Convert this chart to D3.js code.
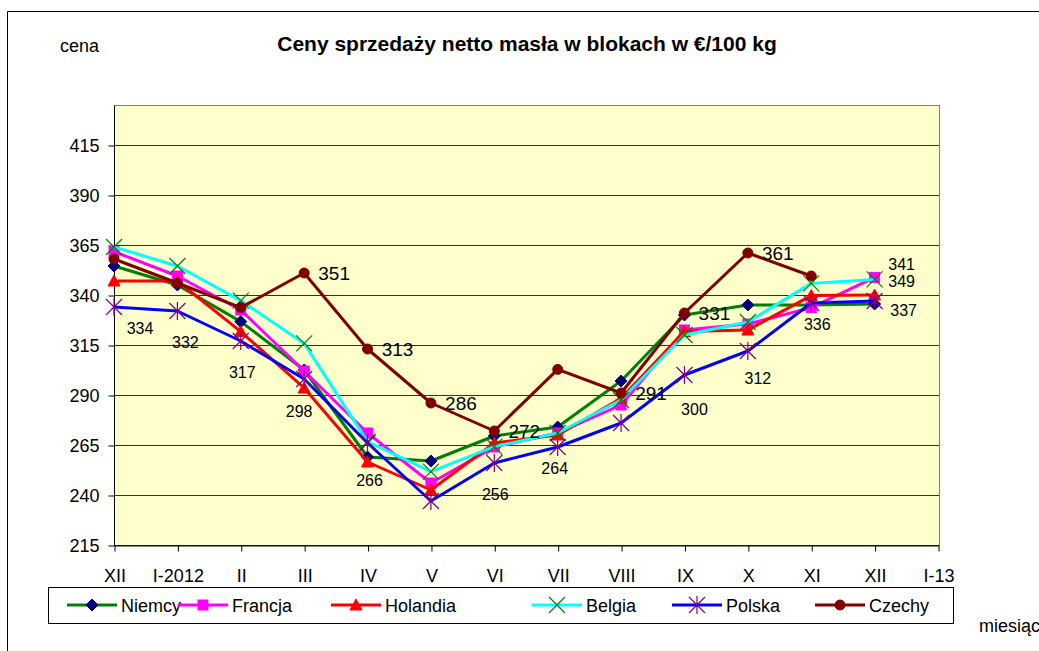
<!DOCTYPE html>
<html>
<head>
<meta charset="utf-8">
<script src="https://cdn.jsdelivr.net/npm/d3@7"></script>
<style>
  html, body { margin: 0; padding: 0; background: #fff; }
  svg { display: block; }
  text { font-family: "Liberation Sans", Arial, sans-serif; fill: #000; }
</style>
</head>
<body>
<svg id="chart" width="1039" height="651"></svg>
<script>
// ---------- DATA ----------
const tickLabels = ["XII", "I-2012", "II", "III", "IV", "V", "VI", "VII", "VIII", "IX", "X", "XI", "XII", "I-13"];
const yTicks = [215, 240, 265, 290, 315, 340, 365, 390, 415];
const seriesNames = ["Niemcy", "Francja", "Holandia", "Belgia", "Polska", "Czechy"];

const niemcy   = [354.5, 345, 326.7, 302.5, 259, 257, 269.5, 274, 297, 330, 335, 335, 335.5];
const francja  = [361.7, 349.5, 332.5, 302, 271, 246, 264, 271, 285, 322.5, 325.5, 333.7, 348.8];
const holandia = [347, 347, 321.7, 293.5, 256.5, 242.5, 266, 270, 288.3, 321.7, 322.5, 339.7, 340];
const belgia   = [364, 354.5, 337.2, 315.8, 266.7, 251.7, 264.2, 271, 287.5, 320, 326.5, 345.8, 347.8];
const polska   = [334, 332, 317, 298, 266, 237, 256, 264, 276, 300, 312, 336, 337];
const czechy   = [358, 346, 333.7, 351, 313, 286, 272, 302.8, 291, 331, 361, 349.5, null];

const polskaLabels = ["334", "332", "317", "298", "266", null, "256", "264", null, "300", "312", "336", "337"];
const czechyLabels = [null, null, null, "351", "313", "286", "272", null, "291", "331", "361", null, null];
const extraLabels  = [{ series: 1, i: 12, text: "349" }, { series: 2, i: 12, text: "341" }];

// ---------- LAYOUT / STYLE ----------
const polskaLabelOffsets = [[26, 21], [8, 31], [1.5, 31.5], [-5, 32], [2, 37], null, [1, 31.5], [-3, 21], null, [10, 34], [10, 27], [6, 21.5], [29, 9.5]];
const czechyLabelOffset = [30, 0];
const extraLabelOffsets = [[27, 4], [27, -31]];

const styles = [
  { line: "#008000", marker: "diamond",  mfill: "#000080", mstroke: "#000080" },
  { line: "#FF00FF", marker: "square",   mfill: "#FF00FF", mstroke: "#FF00FF" },
  { line: "#FF0000", marker: "triangle", mfill: "#FF0000", mstroke: "#FF0000" },
  { line: "#00FFFF", marker: "x",        mfill: "none",    mstroke: "#008000" },
  { line: "#0000FF", marker: "star",     mfill: "none",    mstroke: "#800080" },
  { line: "#800000", marker: "circle",   mfill: "#800000", mstroke: "#800000" }
];
const allSeries = [niemcy, francja, holandia, belgia, polska, czechy];

const svg = d3.select("#chart");
const plot = { left: 114, right: 939, top: 105, bottom: 545 };

const x = d3.scalePoint().domain(d3.range(tickLabels.length)).range([114, 938]);
const y = d3.scaleLinear().domain([215, 435]).range([plot.bottom, plot.top]);

// outer frame
svg.append("path").attr("d", "M7.5,651 L7.5,11.5 L1039,11.5").attr("fill", "none").attr("stroke", "#000").attr("stroke-width", 1);

// titles
svg.append("text").attr("x", 527).attr("y", 51).attr("text-anchor", "middle")
  .style("font-weight", "bold").style("font-size", "21px")
  .text("Ceny sprzedaży netto masła w blokach w €/100 kg");
svg.append("text").attr("x", 60).attr("y", 52).style("font-size", "18px").text("cena");
svg.append("text").attr("x", 979).attr("y", 632).style("font-size", "18px").text("miesiąc");

// plot area
svg.append("rect").attr("x", plot.left + 0.5).attr("y", plot.top + 0.5)
  .attr("width", plot.right - plot.left).attr("height", plot.bottom - plot.top)
  .attr("fill", "#FFFFCC").attr("stroke", "#808080").attr("stroke-width", 1);

// gridlines
svg.append("g").selectAll("line").data(yTicks).join("line")
  .attr("x1", plot.left).attr("x2", plot.right)
  .attr("y1", d => Math.round(y(d)) + 0.5).attr("y2", d => Math.round(y(d)) + 0.5)
  .attr("stroke", "#303030").attr("stroke-width", 1);

// axes
const yAxis = svg.append("g").attr("transform", `translate(${plot.left + 0.5},0.5)`)
  .call(d3.axisLeft(y).tickValues(yTicks).tickSize(6).tickPadding(9).tickSizeOuter(0));
yAxis.select(".domain").attr("d", `M0,${plot.top}V${plot.bottom}`);
yAxis.selectAll("text").style("font-size", "18px").attr("font-family", null);

const xAxis = svg.append("g").attr("transform", `translate(0.5,${plot.bottom + 0.5})`)
  .call(d3.axisBottom(x).tickFormat(i => tickLabels[i]).tickSize(6).tickPadding(18).tickSizeOuter(0));
xAxis.selectAll("text").style("font-size", "18px").attr("font-family", null);

// marker drawer
function drawMarker(g, type, cx, cy, st) {
  if (type === "diamond") {
    g.append("path").attr("d", `M${cx},${cy - 6}L${cx + 6},${cy}L${cx},${cy + 6}L${cx - 6},${cy}Z`)
      .attr("fill", st.mfill).attr("stroke", st.mstroke);
  } else if (type === "square") {
    g.append("rect").attr("x", cx - 5).attr("y", cy - 5).attr("width", 10).attr("height", 10)
      .attr("fill", st.mfill).attr("stroke", st.mstroke);
  } else if (type === "triangle") {
    g.append("path").attr("d", `M${cx},${cy - 6}L${cx + 6},${cy + 5}L${cx - 6},${cy + 5}Z`)
      .attr("fill", st.mfill).attr("stroke", st.mstroke);
  } else if (type === "x") {
    g.append("path").attr("d", `M${cx - 8},${cy - 8}L${cx + 8},${cy + 8}M${cx + 8},${cy - 8}L${cx - 8},${cy + 8}`)
      .attr("fill", "none").attr("stroke", st.mstroke).attr("stroke-width", 1.2);
  } else if (type === "star") {
    g.append("path").attr("d", `M${cx - 8},${cy - 8}L${cx + 8},${cy + 8}M${cx + 8},${cy - 8}L${cx - 8},${cy + 8}M${cx},${cy - 9}L${cx},${cy + 9}`)
      .attr("fill", "none").attr("stroke", st.mstroke).attr("stroke-width", 1.2);
  } else if (type === "circle") {
    g.append("circle").attr("cx", cx).attr("cy", cy).attr("r", 5)
      .attr("fill", st.mfill).attr("stroke", st.mstroke);
  }
}

// series
const line = d3.line().defined(d => d != null).x((d, i) => x(i)).y(d => y(d));
allSeries.forEach((data, s) => {
  const g = svg.append("g");
  g.append("path").datum(data).attr("d", line)
    .attr("fill", "none").attr("stroke", styles[s].line).attr("stroke-width", 3)
    .attr("stroke-linejoin", "round");
  data.forEach((v, i) => { if (v != null) drawMarker(g, styles[s].marker, x(i), y(v), styles[s]); });
});

// data labels
const lbl = svg.append("g");
polskaLabels.forEach((t, i) => {
  if (!t) return;
  const o = polskaLabelOffsets[i];
  lbl.append("text").attr("x", x(i) + o[0]).attr("y", y(polska[i]) + o[1]).attr("dy", "0.36em")
    .attr("text-anchor", "middle").style("font-size", "16px").text(t);
});
czechyLabels.forEach((t, i) => {
  if (!t) return;
  lbl.append("text").attr("x", x(i) + czechyLabelOffset[0]).attr("y", y(czechy[i]) + czechyLabelOffset[1]).attr("dy", "0.36em")
    .attr("text-anchor", "middle").style("font-size", "19px").text(t);
});
extraLabels.forEach((e, k) => {
  const o = extraLabelOffsets[k];
  lbl.append("text").attr("x", x(e.i) + o[0]).attr("y", y(allSeries[e.series][e.i]) + o[1]).attr("dy", "0.36em")
    .attr("text-anchor", "middle").style("font-size", "16px").text(e.text);
});

// legend
const legendX = [67, 178, 331, 532, 672, 815];
const lg = svg.append("g");
lg.append("rect").attr("x", 48.5).attr("y", 587.5).attr("width", 905).attr("height", 36)
  .attr("fill", "#fff").attr("stroke", "#000").attr("stroke-width", 1);
seriesNames.forEach((name, s) => {
  const lx = legendX[s], ly = 605;
  lg.append("line").attr("x1", lx).attr("x2", lx + 50).attr("y1", ly).attr("y2", ly)
    .attr("stroke", styles[s].line).attr("stroke-width", 3);
  drawMarker(lg, styles[s].marker, lx + 25, ly, styles[s]);
  lg.append("text").attr("x", lx + 54).attr("y", ly + 6.5).style("font-size", "18px").text(name);
});
</script>
</body>
</html>
